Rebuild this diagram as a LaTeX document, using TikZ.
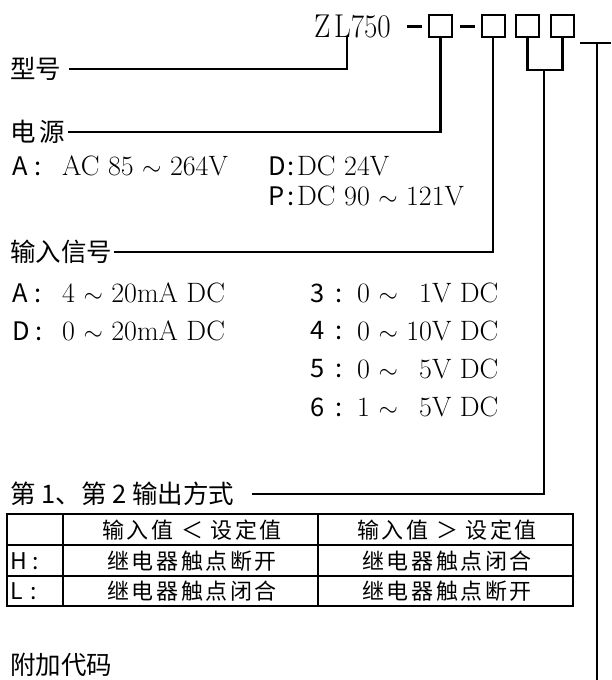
\documentclass[tikz,border=0pt]{standalone}
\usepackage{fontspec}
\usepackage{graphicx}
\newfontfamily\cjk{Noto Sans CJK SC}
\newfontfamily\cjksp[LetterSpace=12]{Noto Sans CJK SC}
\begin{document}
\begin{tikzpicture}[x=1pt,y=-1pt,
  conn/.style={line width=2.7pt, line join=miter},
  head/.style={font=\cjk\fontsize{25.5}{26}\selectfont, inner sep=0, anchor=west},
  lab/.style={font=\cjk\fontsize{25.5}{26}\selectfont, inner sep=0, anchor=west},
  val/.style={font=\fontsize{28}{28}\selectfont, inner sep=0, anchor=west},
  cell/.style={font=\cjksp\fontsize{22}{22}\selectfont, inner sep=0},
  rowlab/.style={font=\cjk\fontsize{23}{23}\selectfont, inner sep=0, anchor=west},
  codebox/.style={draw, line width=2pt, minimum width=23pt, minimum height=22pt, inner sep=0},
  grid/.style={line width=2pt}
]
\fill[white] (0,0) rectangle (611,680);
\useasboundingbox (0,0) rectangle (611,680);

% model code
\node[anchor=west, inner sep=0] (zl) at (314,26) {\scalebox{0.88}[1]{\fontsize{33}{33}\selectfont Z\kern4pt L750}};
\coordinate (d1a) at (407,26); \coordinate (d1b) at (422,26);
\coordinate (d2a) at (460,26); \coordinate (d2b) at (475,26);
\draw[line width=3pt] (d1a) -- (d1b);
\draw[line width=3pt] (d2a) -- (d2b);
\node[codebox] (b1) at (440.5,26) {};
\node[codebox] (b2) at (493,26) {};
\node[codebox] (b3) at (527.5,26) {};
\node[codebox] (b4) at (562.5,26) {};

% right bracket
\coordinate (rl) at (580,43); \coordinate (rr) at (611,43);
\coordinate (rt) at (597,43); \coordinate (rb) at (597,682);
\draw[conn] (rl) -- (rr);
\draw[conn] (rt) -- (rb);

% headings
\node[head] (xh) at (10,69) {型号};
\node[head] (dy) at (10,132) {电\hspace{4pt}源};
\node[head] (sr) at (10,252) {输入信号};
\node[head] (sc) at (10,494) {第 1、第 2 输出方式};
\node[head] (fj) at (10,665) {附加代码};

\coordinate (zlfoot) at (347,37);
\coordinate (j) at (544,70);
\draw[conn] ([xshift=8pt]xh.east) -| (zlfoot);
\draw[conn] ([xshift=3pt]dy.east) -- (dy.east -| b1.south) -- (b1.south);
\draw[conn] ([xshift=2pt]sr.east) -- (sr.east -| b2.south) -- (b2.south);
\draw[conn] (b3.south) |- (j) -| (b4.south);
\draw[conn] ([xshift=18pt]sc.east) -| (j);

% power
\node[lab] (pa) at (12,166) {A\hspace{7pt}:};
\node[val] (pav) at (62,166) {AC 85 $\sim$ 264V};
\node[lab] (pd) at (268,166) {D\hspace{2pt}:};
\node[val] (pdv) at (297,166) {DC 24V};
\node[lab] (pp) at (268,196) {P\hspace{3pt}:};
\node[val] (ppv) at (297,196) {DC 90 $\sim$ 121V};

% input
\node[lab] (ia) at (12,293) {A\hspace{7pt}:};
\node[val] (iav) at (62,293) {4 $\sim$ 20mA DC};
\node[lab] (id) at (12,331) {D\hspace{6pt}:};
\node[val] (idv) at (62,331) {0 $\sim$ 20mA DC};
\node[lab] (i3) at (310,293) {3\hspace{11pt}:};
\node[val] (i3v) at (357,293) {0 $\sim$ \phantom{1}1V DC};
\node[lab] (i4) at (310,331) {4\hspace{11pt}:};
\node[val] (i4v) at (357,331) {0 $\sim$ 10V DC};
\node[lab] (i5) at (310,369) {5\hspace{11pt}:};
\node[val] (i5v) at (357,369) {0 $\sim$ \phantom{1}5V DC};
\node[lab] (i6) at (310,407) {6\hspace{11pt}:};
\node[val] (i6v) at (357,407) {1 $\sim$ \phantom{1}5V DC};

% table
\draw[grid] (7,514) rectangle (573,606);
\draw[grid] (7,545) -- (573,545);
\draw[grid] (7,576) -- (573,576);
\draw[grid] (63,514) -- (63,606);
\draw[grid] (318,514) -- (318,606);
\node[cell] (t12) at (192,530) {输入值 ＜ 设定值};
\node[cell] (t13) at (447,530) {输入值 ＞ 设定值};
\node[rowlab] (th) at (10,561) {H\hspace{6pt}:};
\node[cell] (th2) at (192,561) {继电器触点断开};
\node[cell] (th3) at (447,561) {继电器触点闭合};
\node[rowlab] (tl) at (10,591.5) {L\hspace{8pt}:};
\node[cell] (tl2) at (192,591.5) {继电器触点闭合};
\node[cell] (tl3) at (447,591.5) {继电器触点断开};
\end{tikzpicture}
\end{document}
